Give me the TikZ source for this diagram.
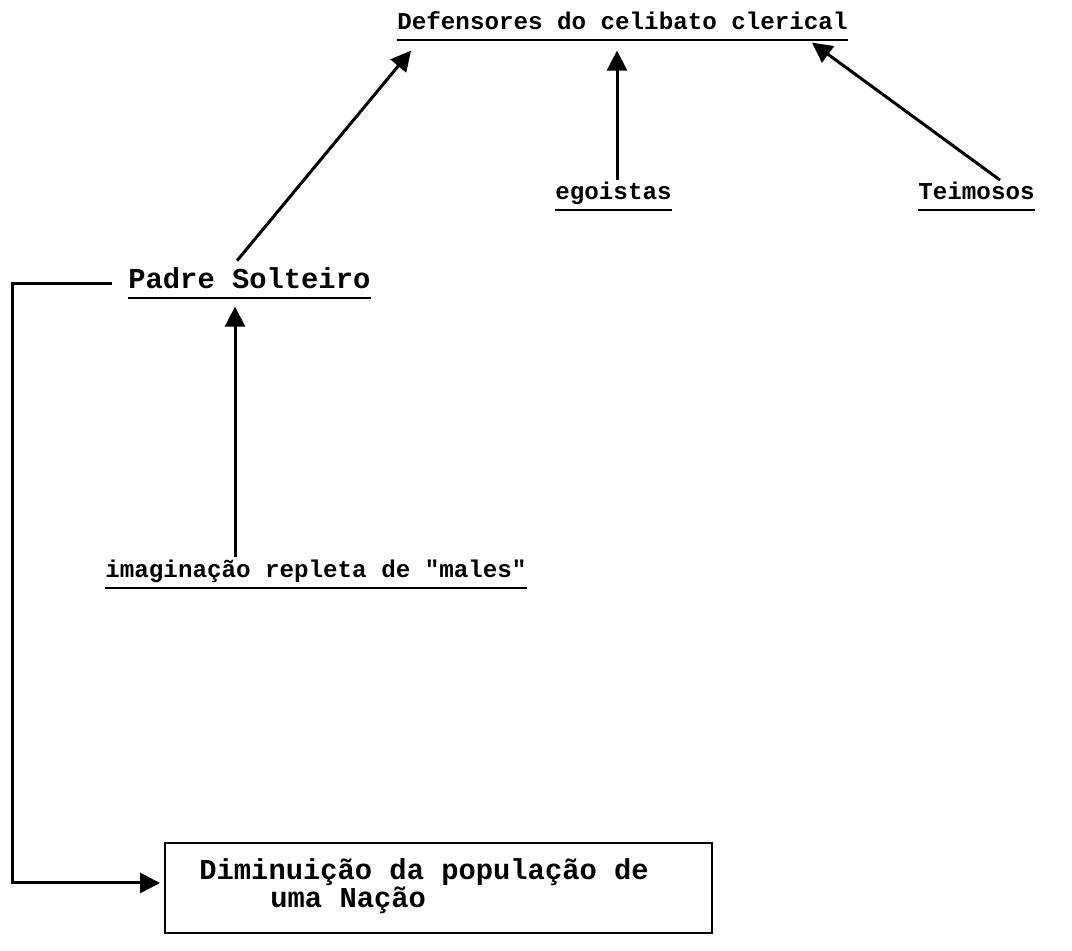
\documentclass[tikz,border=0pt]{standalone}
\usepackage{fontspec}
\setmonofont{Liberation Mono}
\usetikzlibrary{arrows.meta,calc}
\tikzset{
  x=0.5pt, y=-0.5pt,
  lbl/.style={inner sep=0pt, anchor=base west, font=\ttfamily\bfseries\fontsize{12.1}{14}\selectfont},
  biglbl/.style={lbl, font=\ttfamily\bfseries\fontsize{14.4}{17}\selectfont},
  uline/.style={line width=1.2pt},
  tip/.style={-{Triangle[length=10pt,width=10pt]}},
  arr/.style={line width=1.5pt, tip},
  link/.style={line width=1.5pt},
  frame/.style={draw, line width=1pt, minimum width=273.5pt, minimum height=45pt, inner sep=0pt}
}
\begin{document}
\begin{tikzpicture}
\useasboundingbox (0,0) rectangle (1072,951);

% labels
\node[lbl] (def) at (397,30) {Defensores do celibato clerical};
\node[lbl] (ego) at (555,200) {egoistas};
\node[lbl] (tei) at (918,200) {Teimosos};
\node[biglbl] (pad) at (128,289) {Padre Solteiro};
\node[lbl] (ima) at (105,578) {imagina\c{c}\~ao repleta de "males"};

% underlines
\foreach \n in {def,ego,tei,ima}
  \draw[uline] ([yshift=-5pt]\n.base west) -- ([yshift=-5pt]\n.base east);
\draw[uline] ([yshift=-4.5pt]pad.base west) -- ([yshift=-4.5pt]pad.base east);

% result box
\node[frame] (box) at (438.5,888) {};
\node[biglbl] (l1) at (199,880) {Diminui\c{c}\~ao da popula\c{c}\~ao de};
\node[biglbl] (l2) at (270,907) {uma Na\c{c}\~ao};

% arrows into the title
\draw[arr] ([xshift=54.5pt,yshift=3.5pt]pad.north west) -- ([xshift=7pt,yshift=-10pt]def.south west);
\draw[arr] ([xshift=31pt,yshift=1pt]ego.north west) -- ([xshift=110pt,yshift=-10pt]def.south west);
\draw[arr] ([xshift=41pt,yshift=1pt]tei.north west) -- ([xshift=207.5pt,yshift=-6pt]def.south west);

% imagination feeds the single priest
\draw[arr] ([xshift=65pt,yshift=1.5pt]ima.north west) -- ([xshift=53.5pt,yshift=-8.5pt]pad.south west);

% single priest leads to the population decline
\coordinate (corner) at (12,883);
\draw[link, tip]
  ([xshift=-8pt,yshift=-2.5pt]pad.west) -| (corner) -- ([xshift=-2pt]box.west |- corner);
\end{tikzpicture}
\end{document}
